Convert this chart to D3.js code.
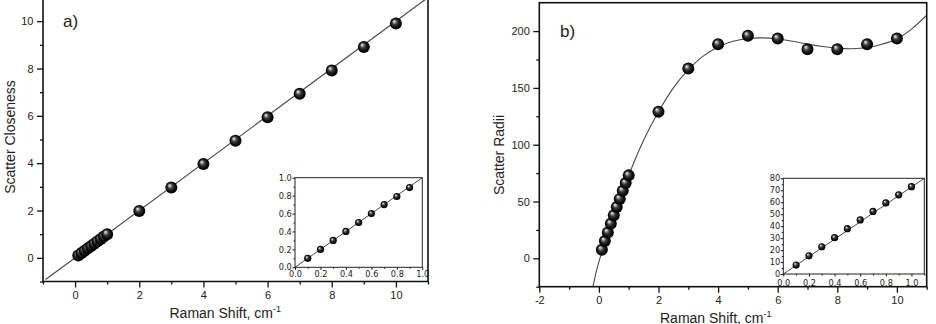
<!DOCTYPE html>
<html>
<head>
<meta charset="utf-8">
<script src="https://cdn.jsdelivr.net/npm/d3@7"></script>
<style>
  body { margin: 0; background: #fff; }
  svg { display: block; }
  text { fill: #222; }
</style>
</head>
<body>
<div id="chart"></div>
<script>
// panel a) values
const aMainX = [0.1, 0.2, 0.3, 0.4, 0.5, 0.6, 0.7, 0.8, 0.9, 1.0, 2, 3, 4, 5, 6, 7, 8, 9, 10];
const aMainY = [0.1, 0.2, 0.3, 0.4, 0.5, 0.6, 0.7, 0.8, 0.9, 1.0, 1.98, 2.97, 3.96, 4.95, 5.94, 6.93, 7.92, 8.91, 9.9];
const aFitX = [-0.92, 11.2];
const aFitY = [-0.92, 11.2];
const aInsetX = [0.1, 0.2, 0.3, 0.4, 0.5, 0.6, 0.7, 0.8, 0.9];
const aInsetY = [0.1, 0.2, 0.3, 0.4, 0.5, 0.6, 0.7, 0.79, 0.89];
const aInsetFitX = [0, 1];
const aInsetFitY = [0, 1];

// panel b) values
const bMainX = [0.1, 0.2, 0.3, 0.4, 0.5, 0.6, 0.7, 0.8, 0.9, 1.0, 2, 3, 4, 5, 6, 7, 8, 9, 10];
const bMainY = [7.5, 15.2, 22.8, 30.4, 37.9, 45.2, 52.3, 59.4, 66.2, 73, 129, 167, 188.5, 196, 193.5, 184, 184, 188.5, 193.5];
const bCurveX = [-0.2, 0, 0.5, 1, 1.5, 2, 2.5, 3, 3.5, 4, 4.5, 5, 5.5, 6, 6.5, 7, 7.5, 8, 8.5, 9, 9.5, 10, 10.5, 11];
const bCurveY = [-25, -3, 36, 73, 104, 129, 150, 166, 178, 186, 191, 193.5, 194, 193, 191, 188.5, 186.5, 185, 184.5, 185.5, 188.5, 193, 202, 214];
const bInsetX = [0.1, 0.2, 0.3, 0.4, 0.5, 0.6, 0.7, 0.8, 0.9, 1.0];
const bInsetY = [7.5, 15.2, 22.8, 30.4, 37.9, 45.2, 52.3, 59.4, 66.2, 73];
const bInsetFitX = [0, 1.1];
const bInsetFitY = [0, 80];

// ticks
const aMajor = [0, 2, 4, 6, 8, 10];
const aMinor = [-1, 1, 3, 5, 7, 9, 11];
const bMajorX = [-2, 0, 2, 4, 6, 8, 10];
const bMinorX = [-1, 1, 3, 5, 7, 9, 11];
const bMajorY = [0, 50, 100, 150, 200];
const bMinorY = [-25, 25, 75, 125, 175];
const insetMajor = [0, 0.2, 0.4, 0.6, 0.8, 1.0];
const insetMinor = [0.1, 0.3, 0.5, 0.7, 0.9];
const bInsetMajorY = [0, 10, 20, 30, 40, 50, 60, 70, 80];
const bInsetMinorY = [5, 15, 25, 35, 45, 55, 65, 75];
const bInsetMinorX = [0.1, 0.3, 0.5, 0.7, 0.9, 1.1];

const W = 936, H = 324;
const font = "'Liberation Sans', Arial, sans-serif";
const smallFont = "'DejaVu Sans', sans-serif";
const intFmt = d => String(d);          // plain hyphen minus, like the original
const decFmt = d => d.toFixed(1);

const svg = d3.select("#chart").append("svg")
  .attr("width", W).attr("height", H)
  .style("font-family", font);

// shaded ball
const defs = svg.append("defs");
const grad = defs.append("radialGradient").attr("id", "ball")
  .attr("cx", "50%").attr("cy", "50%").attr("r", "50%")
  .attr("fx", "33%").attr("fy", "30%");
[[0, "#f4f4f4"], [0.18, "#acacac"], [0.42, "#3e3e3e"], [0.75, "#0e0e0e"], [1, "#000"]]
  .forEach(s => grad.append("stop").attr("offset", s[0]).attr("stop-color", s[1]));

function zip(xs, ys) { return xs.map((x, i) => ({x: x, y: ys[i]})); }

function drawAxis(g, scale, orient, major, minor, fmt, opt) {
  const make = orient === "left" ? d3.axisLeft : d3.axisBottom;
  const gMinor = g.append("g").call(make(scale).tickValues(minor).tickFormat("")
    .tickSize(opt.minorLen).tickSizeOuter(0));
  gMinor.select(".domain").remove();
  const gMajor = g.append("g").call(make(scale).tickValues(major).tickFormat(fmt)
    .tickSize(opt.majorLen).tickSizeOuter(0).tickPadding(opt.pad));
  gMajor.select(".domain").remove();
  g.selectAll("line").attr("stroke", "#111").attr("stroke-width", opt.tickWidth);
  g.selectAll("text").attr("fill", "#222")
    .style("font-size", opt.fontSize + "px").style("font-family", opt.family);
}

function balls(g, data, x, y, r) {
  g.selectAll(null).data(data).enter().append("circle")
    .attr("cx", d => x(d.x)).attr("cy", d => y(d.y)).attr("r", r)
    .attr("fill", "url(#ball)");
}

function fitLine(g, xs, ys, x, y, width, curve) {
  g.append("path").datum(zip(xs, ys))
    .attr("d", d3.line().x(d => x(d.x)).y(d => y(d.y)).curve(curve || d3.curveLinear))
    .attr("fill", "none").attr("stroke", "#4a4a4a").attr("stroke-width", width);
}

function clip(id, x0, y0, x1, y1) {
  defs.append("clipPath").attr("id", id).append("rect")
    .attr("x", x0).attr("y", y0).attr("width", x1 - x0).attr("height", y1 - y0);
}

const mainAxisOpt = {majorLen: 6, minorLen: 3, pad: 3.5, fontSize: 11, family: font, tickWidth: 1.3};

// ---------------- panel a ----------------
{
  const x = d3.scaleLinear().domain([-1, 11]).range([43, 428]);
  const y = d3.scaleLinear().domain([-1, 11]).range([281.5, -2.5]);

  clip("clipA", 43, -5, 428, 281.5);
  const plot = svg.append("g").attr("clip-path", "url(#clipA)");
  fitLine(plot, aFitX, aFitY, x, y, 1.2);
  balls(plot, zip(aMainX, aMainY), x, y, 6);

  drawAxis(svg.append("g").attr("transform", "translate(43,0)"), y, "left", aMajor, aMinor, intFmt, mainAxisOpt);
  drawAxis(svg.append("g").attr("transform", "translate(0,281.5)"), x, "bottom", aMajor, aMinor, intFmt, mainAxisOpt);

  // inset
  const ix = d3.scaleLinear().domain([0, 1]).range([295, 422.3]);
  const iy = d3.scaleLinear().domain([0, 1]).range([267.3, 177.7]);
  svg.append("rect").attr("x", 295).attr("y", 177.7).attr("width", 127.3).attr("height", 89.6)
    .attr("fill", "#fff");
  clip("clipAI", 295, 177.7, 422.3, 267.3);
  const inset = svg.append("g").attr("clip-path", "url(#clipAI)");
  fitLine(inset, aInsetFitX, aInsetFitY, ix, iy, 1);
  balls(inset, zip(aInsetX, aInsetY), ix, iy, 3.6);
  const insetOpt = {majorLen: 2.5, minorLen: 1.5, pad: 0.8, fontSize: 8.2, family: smallFont, tickWidth: 1};
  drawAxis(svg.append("g").attr("transform", "translate(295,0)"), iy, "left", insetMajor, insetMinor, decFmt, insetOpt);
  drawAxis(svg.append("g").attr("transform", "translate(0,267.3)"), ix, "bottom", insetMajor, insetMinor, decFmt,
    Object.assign({}, insetOpt, {pad: 1.4}));
  svg.append("rect").attr("x", 295).attr("y", 177.7).attr("width", 127.3).attr("height", 89.6)
    .attr("fill", "none").attr("stroke", "#222").attr("stroke-width", 1);

  // frame: left, bottom, right
  svg.append("path").attr("d", "M43,-2V281.5H428V-2")
    .attr("fill", "none").attr("stroke", "#111").attr("stroke-width", 1.6);

  svg.append("text").attr("x", 63).attr("y", 27).style("font-size", "17px").text("a)");
  svg.append("text").attr("transform", "translate(14.5,137) rotate(-90)")
    .attr("text-anchor", "middle").style("font-size", "14px").text("Scatter Closeness");
  const t = svg.append("text").attr("x", 169.5).attr("y", 318.3).style("font-size", "14px");
  t.append("tspan").text("Raman Shift, cm");
  t.append("tspan").attr("dy", -6).style("font-size", "9px").text("-1");
}

// ---------------- panel b ----------------
{
  const x = d3.scaleLinear().domain([-2, 11]).range([539.3, 926.7]);
  const y = d3.scaleLinear().domain([-25, 225]).range([286.7, 2.7]);

  clip("clipB", 539.3, 2.7, 926.7, 286.7);
  const plot = svg.append("g").attr("clip-path", "url(#clipB)");
  fitLine(plot, bCurveX, bCurveY, x, y, 1.1, d3.curveCatmullRom);
  balls(plot, zip(bMainX, bMainY), x, y, 6);

  drawAxis(svg.append("g").attr("transform", "translate(539.3,0)"), y, "left", bMajorY, bMinorY, intFmt, mainAxisOpt);
  drawAxis(svg.append("g").attr("transform", "translate(0,286.7)"), x, "bottom", bMajorX, bMinorX, intFmt, mainAxisOpt);

  // inset
  const ix = d3.scaleLinear().domain([0, 1.1]).range([783.3, 924.3]);
  const iy = d3.scaleLinear().domain([0, 80]).range([274, 178.3]);
  svg.append("rect").attr("x", 783.3).attr("y", 178.3).attr("width", 141).attr("height", 95.7)
    .attr("fill", "#fff");
  clip("clipBI", 783.3, 178.3, 924.3, 274);
  const inset = svg.append("g").attr("clip-path", "url(#clipBI)");
  fitLine(inset, bInsetFitX, bInsetFitY, ix, iy, 1);
  balls(inset, zip(bInsetX, bInsetY), ix, iy, 3.6);
  const insetOpt = {majorLen: 2.5, minorLen: 1.5, pad: 0.6, fontSize: 8.2, family: smallFont, tickWidth: 1};
  drawAxis(svg.append("g").attr("transform", "translate(783.3,0)"), iy, "left", bInsetMajorY, bInsetMinorY, intFmt, insetOpt);
  drawAxis(svg.append("g").attr("transform", "translate(0,274)"), ix, "bottom", insetMajor, bInsetMinorX, decFmt,
    Object.assign({}, insetOpt, {pad: 3.2}));
  svg.append("rect").attr("x", 783.3).attr("y", 178.3).attr("width", 141).attr("height", 95.7)
    .attr("fill", "none").attr("stroke", "#222").attr("stroke-width", 1);

  svg.append("rect").attr("x", 539.3).attr("y", 2.7).attr("width", 387.4).attr("height", 284)
    .attr("fill", "none").attr("stroke", "#111").attr("stroke-width", 1.6);

  svg.append("text").attr("x", 560).attr("y", 37).style("font-size", "17px").text("b)");
  svg.append("text").attr("transform", "translate(504,155) rotate(-90)")
    .attr("text-anchor", "middle").style("font-size", "14px").text("Scatter Radii");
  const t = svg.append("text").attr("x", 660).attr("y", 322.5).style("font-size", "14px");
  t.append("tspan").text("Raman Shift, cm");
  t.append("tspan").attr("dy", -6).style("font-size", "9px").text("-1");
}
</script>
</body>
</html>
